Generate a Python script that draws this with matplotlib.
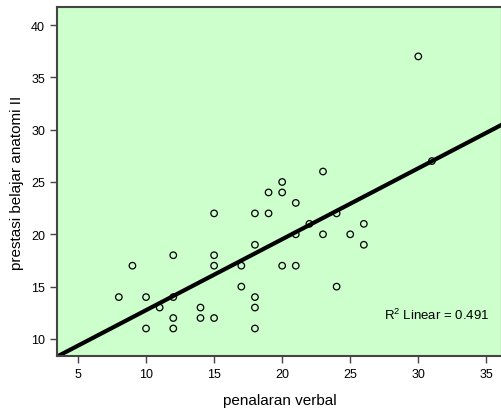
import matplotlib
matplotlib.use("Agg")
import matplotlib.pyplot as plt
import numpy as np

plt.rcParams['font.family'] = ['Liberation Sans', 'DejaVu Sans']
plt.rcParams['mathtext.fontset'] = 'custom'
plt.rcParams['mathtext.rm'] = 'Liberation Sans'

# penalaran verbal vs prestasi belajar anatomi II
verbal = [8, 9, 10, 10, 11, 12, 12, 12, 12, 14, 14, 15, 15, 15, 15, 17, 17,
          18, 18, 18, 18, 18, 19, 19, 20, 20, 20, 21, 21, 21, 22, 23, 23,
          24, 24, 25, 26, 26, 30, 31]
anatomi = [14, 17, 14, 11, 13, 18, 14, 12, 11, 13, 12, 22, 18, 17, 12, 17, 15,
           22, 19, 14, 13, 11, 24, 22, 25, 24, 17, 23, 20, 17, 21, 26, 20,
           22, 15, 20, 21, 19, 37, 27]
x_ticks = [5, 10, 15, 20, 25, 30, 35]
y_ticks = [10, 15, 20, 25, 30, 35, 40]
r2_label = r'R$^{\mathrm{2}}$ Linear = 0.491'

x = np.array(verbal, dtype=float)
y = np.array(anatomi, dtype=float)

fig = plt.figure(figsize=(5.02, 4.10), dpi=100)
ax = fig.add_axes([0.1135, 0.13, 0.8865, 0.8497])
ax.set_facecolor('#ccffcc')

ax.set_xlim(3.457, 36.15)
ax.set_ylim(8.40, 41.69)

# fitted line
slope, intercept = np.polyfit(x, y, 1)
xx = np.array(ax.get_xlim())
ax.plot(xx, slope * xx + intercept, color='black', lw=3.0, zorder=2)

ax.scatter(x, y, s=22, facecolors='none', edgecolors='black',
           linewidths=0.9, zorder=3)

ax.text(27.5, 12.3, r2_label, fontsize=9.5, va='center', ha='left')

ax.set_xticks(x_ticks)
ax.set_yticks(y_ticks)
ax.tick_params(direction='out', length=5, width=1, labelsize=9,
               color='#444444')
ax.set_xlabel('penalaran verbal', fontsize=11, labelpad=10)
ax.set_ylabel('prestasi belajar anatomi II', fontsize=11, labelpad=5)

for side in ['left', 'bottom', 'top', 'right']:
    ax.spines[side].set_color('#444444')
    ax.spines[side].set_linewidth(1.5)

fig.savefig('out.png', dpi=100)
